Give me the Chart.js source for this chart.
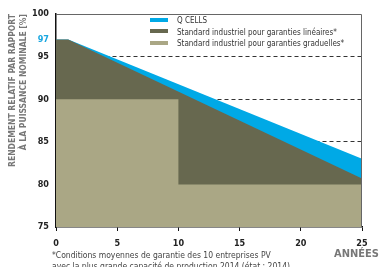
<!DOCTYPE html>
<html>
<head>
<meta charset="utf-8">
<script src="https://cdn.jsdelivr.net/npm/chart.js@4/dist/chart.umd.min.js"></script>
<style>
  html, body { margin: 0; padding: 0; background: #fff; }
  #wrap { position: relative; width: 380px; height: 267px; overflow: hidden; }
  #chart { position: absolute; left: 0; top: 0; }
  .narrow { font-family: "Liberation Sans Narrow", "Arial Narrow", "DejaVu Sans Condensed", sans-serif; }
  #legend { position: absolute; left: 150px; top: 15px; font-size: 8px; color: #333; }
  #legend div { height: 11.5px; line-height: 11.5px; white-space: nowrap; }
  #legend span.box { display: inline-block; width: 18px; height: 4px; margin-right: 9px; vertical-align: middle; position: relative; top: -1px; }
  #annees { position: absolute; right: 1px; top: 247px; font-size: 11px; font-weight: bold; color: #777; }
  #note { position: absolute; left: 52px; top: 250px; font-size: 8.5px; line-height: 11px; color: #444; white-space: nowrap; }
</style>
</head>
<body>
<div id="wrap">
  <canvas id="chart" width="380" height="267"></canvas>
  <div id="legend" class="narrow"></div>
  <div id="annees" class="narrow">ANNÉES</div>
  <div id="note" class="narrow">*Conditions moyennes de garantie des 10 entreprises PV<br>avec la plus grande capacité de production 2014 (état : 2014)</div>
</div>
<script>
// Values
const seriesNames = ['Q CELLS', 'Standard industriel pour garanties linéaires*', 'Standard industriel pour garanties graduelles*'];
const seriesColors = ['#00a9e6', '#67684f', '#aaa785'];

const qcellsYears = [0, 1, 25];
const qcellsValues = [97, 97, 83];

const linearYears = [0, 1, 25];
const linearValues = [97, 97, 80.7];

const gradualYears = [0, 10, 10, 25];
const gradualValues = [90, 90, 80, 80];

const yTicks = [75, 80, 85, 90, 95, 97, 100];
const xTicks = [0, 5, 10, 15, 20, 25];
const dashedLevels = [80, 85, 90, 95];

function toPoints(xs, ys) {
  return xs.map((x, i) => ({ x: x, y: ys[i] }));
}

// legend
const legendEl = document.getElementById('legend');
seriesNames.forEach(function (name, i) {
  const row = document.createElement('div');
  const box = document.createElement('span');
  box.className = 'box';
  box.style.background = seriesColors[i];
  row.appendChild(box);
  row.appendChild(document.createTextNode(name));
  legendEl.appendChild(row);
});

const frame = {
  id: 'frame',
  afterDatasetsDraw(chart) {
    const { ctx, chartArea: a } = chart;
    ctx.save();
    ctx.strokeStyle = '#666';
    ctx.lineWidth = 1;
    ctx.beginPath();
    ctx.moveTo(a.left, a.top + 0.5);
    ctx.lineTo(a.right - 0.5, a.top + 0.5);
    ctx.lineTo(a.right - 0.5, a.bottom);
    ctx.stroke();
    ctx.restore();
  }
};

const tickFont = { family: '"Liberation Sans Narrow", "Arial Narrow", "DejaVu Sans Condensed", sans-serif', size: 9, weight: 'bold' };

new Chart(document.getElementById('chart'), {
  type: 'line',
  data: {
    datasets: [
      {
        label: seriesNames[0],
        data: toPoints(qcellsYears, qcellsValues),
        backgroundColor: seriesColors[0],
        borderWidth: 0,
        pointRadius: 0,
        fill: 'start',
        order: 3,
      },
      {
        label: seriesNames[1],
        data: toPoints(linearYears, linearValues),
        backgroundColor: seriesColors[1],
        borderWidth: 0,
        pointRadius: 0,
        fill: 'start',
        order: 2,
      },
      {
        label: seriesNames[2],
        data: toPoints(gradualYears, gradualValues),
        backgroundColor: seriesColors[2],
        borderWidth: 0,
        pointRadius: 0,
        fill: 'start',
        order: 1,
      },
    ],
  },
  options: {
    responsive: false,
    animation: false,
    events: [],
    layout: { padding: { left: 0, right: 18, top: 14, bottom: 0 } },
    plugins: {
      legend: { display: false },
      tooltip: { enabled: false },
    },
    scales: {
      x: {
        type: 'linear',
        min: 0,
        max: 25,
        afterBuildTicks(scale) {
          scale.ticks = xTicks.map(v => ({ value: v }));
        },
        afterFit(scale) {
          scale.height = 40;
        },
        ticks: {
          color: '#222',
          font: tickFont,
          padding: 7,
          maxRotation: 0,
        },
        grid: {
          drawOnChartArea: false,
          drawTicks: true,
          tickLength: 4,
          color: '#111',
        },
        border: { color: '#111', width: 1.5 },
      },
      y: {
        min: 75,
        max: 100,
        afterBuildTicks(scale) {
          scale.ticks = yTicks.map(v => ({ value: v }));
        },
        afterFit(scale) {
          scale.width = 56;
        },
        ticks: {
          color: ctx => (ctx.tick && ctx.tick.value === 97 ? '#1aa7e0' : '#222'),
          font: tickFont,
          padding: 7,
        },
        grid: {
          drawTicks: false,
          color: ctx => (ctx.tick && dashedLevels.includes(ctx.tick.value) ? '#333' : 'rgba(0,0,0,0)'),
          lineWidth: 1,
        },
        border: { color: '#111', width: 1.5, dash: [4, 3] },
        title: {
          display: true,
          text: ['RENDEMENT RELATIF PAR RAPPORT', 'À LA PUISSANCE NOMINALE [%]'],
          align: 'end',
          color: '#777',
          font: { family: '"Liberation Sans Narrow", "Arial Narrow", "DejaVu Sans Condensed", sans-serif', size: 8.5, weight: 'bold', lineHeight: 1.35 },
          padding: { top: 7, bottom: 0 },
        },
      },
    },
  },
  plugins: [frame],
});
</script>
</body>
</html>
